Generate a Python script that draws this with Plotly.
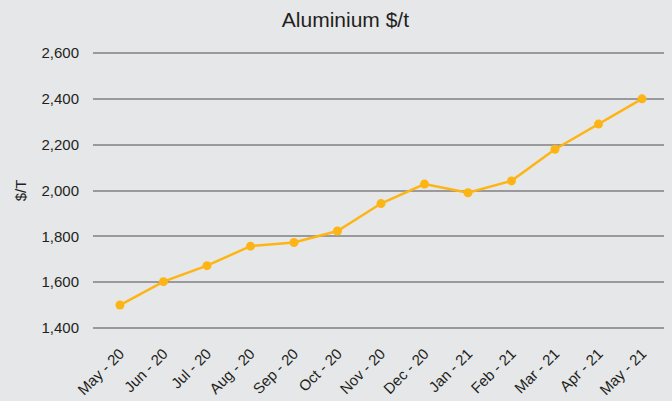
import plotly.graph_objects as go

months = ["May - 20", "Jun - 20", "Jul - 20", "Aug - 20", "Sep - 20", "Oct - 20",
          "Nov - 20", "Dec - 20", "Jan - 21", "Feb - 21", "Mar - 21", "Apr - 21", "May - 21"]
prices = [1500, 1602, 1672, 1757, 1773, 1823, 1943, 2028, 1990, 2042, 2180, 2290, 2400]
y_ticks = [1400, 1600, 1800, 2000, 2200, 2400, 2600]

bg = "#e6e7e9"
fig = go.Figure(go.Scatter(
    x=months, y=prices, mode="lines+markers",
    line=dict(color="#fdb515", width=2.5),
    marker=dict(color="#fdb515", size=9),
))
fig.update_layout(
    width=672, height=401,
    paper_bgcolor=bg, plot_bgcolor=bg,
    margin=dict(l=93, r=8, t=51.4, b=70.6),
    font=dict(family="Liberation Sans, Arial, sans-serif", color="#231f20", size=15),
    title=dict(text="Aluminium $/t", x=0.514, xanchor="center", y=0.95, yanchor="middle",
               font=dict(size=21, color="#231f20")),
    showlegend=False,
)
fig.update_xaxes(
    type="category", range=[-0.62, 12.506], tickangle=-45, automargin=False,
    showgrid=False, showline=False, zeroline=False, ticklabelstandoff=11,
    tickfont=dict(size=15),
)
fig.update_yaxes(
    range=[1391, 2609], tickvals=y_ticks, tickformat=",", automargin=False,
    showgrid=True, gridcolor="#9a9a9c", gridwidth=2, zeroline=False,
    ticklabelstandoff=13,
    title=dict(text="$/T", standoff=11, font=dict(size=15)),
)
fig.write_html("out.html", config={"displayModeBar": False},
               post_script="document.body.style.margin='0';document.body.style.background='#e6e7e9';")
